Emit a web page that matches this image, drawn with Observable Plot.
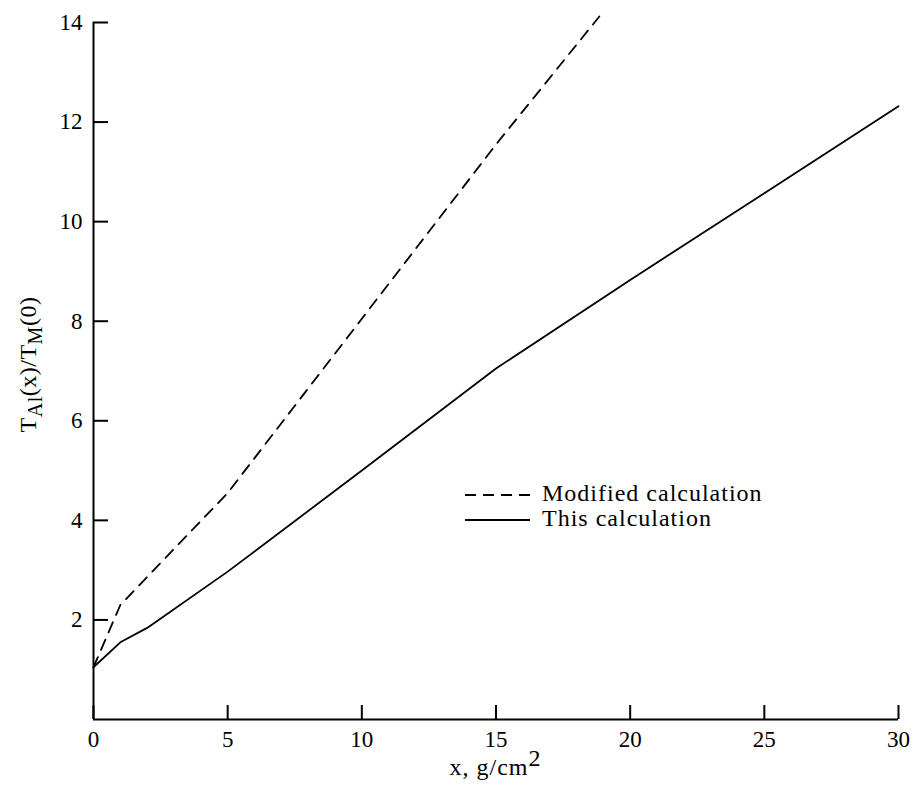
<!DOCTYPE html>
<html><head><meta charset="utf-8">
<script src="https://cdn.jsdelivr.net/npm/d3@7"></script>
<script src="https://cdn.jsdelivr.net/npm/@observablehq/plot@0.6"></script>
<style>
body{margin:0;background:#fff;}
#wrap{width:916px;height:786px;}
#wrap svg text{font-family:"Liberation Serif","Times New Roman",serif !important;}
</style></head><body><div id="wrap"></div>
<script>
// Modified calculation (dashed)
const modifiedX = [0, 1, 5, 10, 15, 18.85];
const modifiedY = [1.05, 2.3, 4.55, 8.05, 11.55, 14.12];
// This calculation (solid)
const thisX = [0, 1, 2, 5, 10, 15, 20, 25, 30];
const thisY = [1.05, 1.55, 1.84, 2.97, 5.0, 7.05, 8.83, 10.57, 12.32];
const xTicks = [0, 5, 10, 15, 20, 25, 30];
const yTicks = [2, 4, 6, 8, 10, 12, 14];
const legendLabels = ["Modified calculation", "This calculation"];

const modData = modifiedX.map((x, i) => ({x, y: modifiedY[i]}));
const thisData = thisX.map((x, i) => ({x, y: thisY[i]}));

const FONT = "Liberation Serif";
const fmt = d => String(d);
const chart = Plot.plot({
  width: 916, height: 786,
  marginLeft: 93, marginRight: 18, marginTop: 22, marginBottom: 67,
  style: {fontFamily: FONT, fontSize: "23px", color: "#000", background: "#fff"},
  x: {domain: [0, 30]},
  y: {domain: [0, 14]},
  marks: [
    Plot.axisX(xTicks, {tickSize: 0, tickPadding: 11, label: null, tickFormat: fmt, fontSize: 23}),
    Plot.axisX(xTicks, {tickSize: 14, dy: -14, tickFormat: () => "", label: null, strokeWidth: 2}),
    Plot.axisY(yTicks, {tickSize: 0, tickPadding: 11, label: null, tickFormat: fmt, fontSize: 23}),
    Plot.axisY(yTicks, {tickSize: 15, dx: 15, tickFormat: () => "", label: null, strokeWidth: 2}),
    Plot.ruleX([0], {strokeWidth: 2}),
    Plot.ruleY([0], {strokeWidth: 2}),
    Plot.line(thisData, {x: "x", y: "y", strokeWidth: 1.8}),
    Plot.line(modData, {x: "x", y: "y", strokeWidth: 1.8, strokeDasharray: "11,8"})
  ]
});
document.getElementById("wrap").appendChild(chart);

const svg = d3.select(chart);
// tick label font
svg.selectAll("g[aria-label$='tick label']").style("font-size", "23px");
svg.selectAll("g[aria-label$='tick label'] text").style("font-size", "23px");

const sx = chart.scale("x"), sy = chart.scale("y");
const cx = (sx.apply(0) + sx.apply(30)) / 2;

// x title
const xt = svg.append("text").attr("x", cx).attr("y", 775).attr("text-anchor", "middle")
  .style("font-size", "24px").attr("letter-spacing", "1px").attr("fill", "#000");
xt.append("tspan").text("x, g/cm");
xt.append("tspan").attr("dy", -9).text("2");

// y title
const cy = (sy.apply(0) + sy.apply(14)) / 2 - 6;
const yt = svg.append("text").attr("transform", `translate(36,${cy}) rotate(-90)`).attr("text-anchor", "middle")
  .style("font-size", "24px").attr("letter-spacing", "0.5px").attr("fill", "#000");
yt.append("tspan").text("T");
yt.append("tspan").attr("dy", 6).style("font-size", "20px").text("Al");
yt.append("tspan").attr("dy", -6).text("(x)/T");
yt.append("tspan").attr("dy", 6).style("font-size", "20px").text("M");
yt.append("tspan").attr("dy", -6).text("(0)");

// legend
const lg = svg.append("g");
const rows = [{label: legendLabels[0], dash: "11,7", y: 495}, {label: legendLabels[1], dash: null, y: 520}];
rows.forEach(r => {
  lg.append("line").attr("x1", 465).attr("x2", 530).attr("y1", r.y).attr("y2", r.y)
    .attr("stroke", "#000").attr("stroke-width", 1.8).attr("stroke-dasharray", r.dash);
  lg.append("text").attr("x", 542).attr("y", r.y + 6).attr("text-anchor", "start")
    .style("font-size", "24px")
    .attr("letter-spacing", "1px").attr("fill", "#000").text(r.label);
});
</script>
</body></html>
